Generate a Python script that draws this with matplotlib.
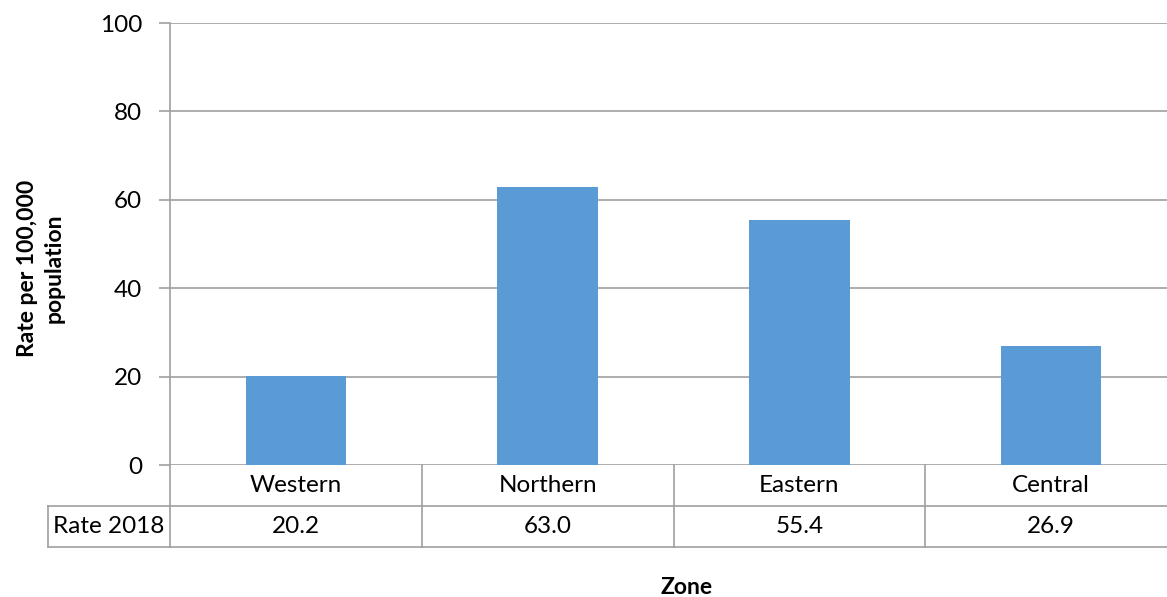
import matplotlib.pyplot as plt

# chart data
zones = ["Western", "Northern", "Eastern", "Central"]
rate_2018 = [20.2, 63.0, 55.4, 26.9]
series_name = "Rate 2018"
y_ticks = [0, 20, 40, 60, 80, 100]

plt.rcParams['font.family'] = ['Lato', 'DejaVu Sans']

W, H = 1167, 597
fig = plt.figure(figsize=(W / 100, H / 100), dpi=100)
fig.patch.set_facecolor('white')

# plot area in pixel terms (right edge runs past the picture, as in the original)
left, right, top, bottom = 170, 1177, 23, 465
ax = fig.add_axes([left / W, (H - bottom) / H, (right - left) / W, (bottom - top) / H])

grid_col = '#A0A0A0'
bar_col = '#5B9BD5'
fs = 17.5

x = list(range(len(zones)))
ax.bar(x, rate_2018, width=0.4, color=bar_col, zorder=3)
ax.set_xlim(-0.5, len(zones) - 0.5)
ax.set_ylim(0, 100)
ax.set_yticks(y_ticks)
ax.yaxis.grid(True, color=grid_col, linewidth=1.2, zorder=0)
ax.tick_params(axis='y', length=8, width=1.2, color=grid_col, pad=12, labelsize=fs)
ax.tick_params(axis='x', bottom=False, labelbottom=False)
for side in ['top', 'right', 'bottom']:
    ax.spines[side].set_visible(False)
ax.spines['left'].set_color(grid_col)
ax.spines['left'].set_linewidth(1.2)

# data table under the axis
trans = ax.get_xaxis_transform()
row_h = 41 / (bottom - top)
cat_w = (right - left) / len(zones)
label_x = -0.5 - (left - 48) / cat_w
line_kw = dict(color=grid_col, linewidth=1.2, transform=trans, clip_on=False)

ax.plot([-0.5, -0.5], [0, -2 * row_h], **line_kw)
for b in range(len(zones) - 1):
    ax.plot([b + 0.5, b + 0.5], [0, -2 * row_h], **line_kw)
ax.plot([label_x, len(zones) - 0.5], [-row_h, -row_h], **line_kw)
ax.plot([label_x, len(zones) - 0.5], [-2 * row_h, -2 * row_h], **line_kw)
ax.plot([label_x, label_x], [-row_h, -2 * row_h], **line_kw)

for i, (z, v) in enumerate(zip(zones, rate_2018)):
    ax.text(i, -0.5 * row_h, z, transform=trans, ha='center', va='center', fontsize=fs)
    ax.text(i, -1.5 * row_h, f"{v:.1f}", transform=trans, ha='center', va='center', fontsize=fs)
ax.text((label_x - 0.5) / 2, -1.5 * row_h, series_name, transform=trans,
        ha='center', va='center', fontsize=fs)

# axis titles
fig.text(41 / W, 1 - 268 / H, "Rate per 100,000\npopulation", rotation=90,
         ha='center', va='center', fontsize=16.5, fontweight='bold',
         multialignment='center', linespacing=1.3)
fig.text(687 / W, 1 - 588 / H, "Zone", ha='center', va='center', fontsize=16.5, fontweight='bold')

fig.savefig("out.png", dpi=100)
